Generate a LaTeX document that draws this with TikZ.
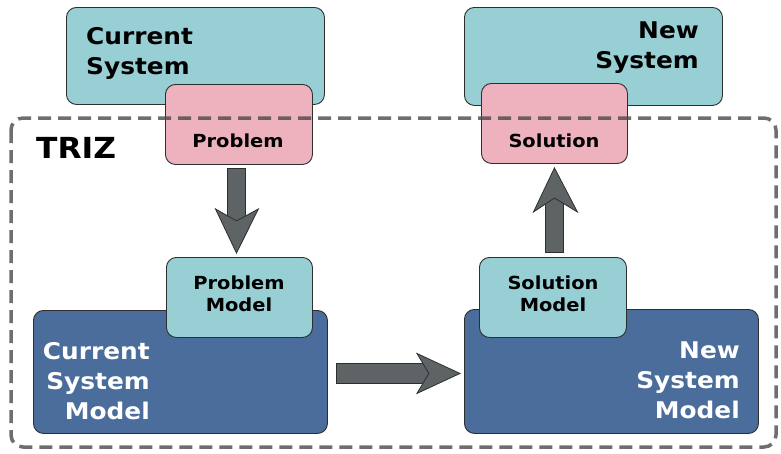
\documentclass[tikz,border=0pt]{standalone}
\usepackage{fontspec}
\setmainfont{DejaVu Sans}[FakeStretch=1.08]
\usetikzlibrary{calc}
\definecolor{tealbox}{HTML}{98CFD4}
\definecolor{pinkbox}{HTML}{EDB2BD}
\definecolor{bluebox}{HTML}{4A6D9B}
\definecolor{arrowg}{HTML}{5E6466}
\definecolor{edgec}{HTML}{2E2E2E}
\definecolor{dashc}{HTML}{4A4A4A}
\begin{document}
\begin{tikzpicture}[x=1pt,y=-1pt,
  box/.style={draw=edgec, line width=0.9pt, rounded corners=10pt, inner sep=0pt, anchor=north west},
  bigtxt/.style={inner sep=0pt, font=\bfseries\fontsize{23}{30}\selectfont},
  smalltxt/.style={inner sep=0pt, align=center, font=\bfseries\fontsize{18}{22}\selectfont},
  fatarrow/.style={fill=arrowg, draw=edgec, line width=0.8pt, line join=miter},
  frame/.style={draw=dashc, line width=3.5pt, dash pattern=on 13pt off 7pt, rounded corners=12pt, opacity=0.8}]
\useasboundingbox (0,0) rectangle (781,453);
% top boxes
\node[box, fill=tealbox, minimum width=258pt, minimum height=97pt] (cs) at (66,7) {};
\node[box, fill=tealbox, minimum width=258pt, minimum height=98pt] (ns) at (464,7) {};
\node[box, fill=pinkbox, minimum width=147pt, minimum height=80pt] (prob) at (165,84) {};
\node[box, fill=pinkbox, minimum width=146pt, minimum height=80pt] (sol) at (481,83) {};
% bottom boxes
\node[box, fill=bluebox, minimum width=294pt, minimum height=123pt] (csm) at (33,310) {};
\node[box, fill=bluebox, minimum width=294pt, minimum height=124pt] (nsm) at (464,309) {};
\node[box, fill=tealbox, minimum width=146pt, minimum height=80pt] (pm) at (166,257) {};
\node[box, fill=tealbox, minimum width=147pt, minimum height=80pt] (sm) at (479,257) {};
% texts
\node[bigtxt, align=left, anchor=north west] (cst) at (86,27) {Current\\System};
\node[bigtxt, align=right, anchor=north east] (nst) at (699,22) {New\\System};
\node[smalltxt, anchor=north] (probt) at (238,134) {Problem};
\node[smalltxt, anchor=north] (solt) at (554,134) {Solution};
\node[smalltxt, anchor=north] (pmt) at (239,276) {Problem\\Model};
\node[smalltxt, anchor=north] (smt) at (553,276) {Solution\\Model};
\node[bigtxt, align=right, anchor=north east, text=white] (csmt) at (150,342) {Current\\System\\Model};
\node[bigtxt, align=right, anchor=north east, text=white] (nsmt) at (740,342) {New\\System\\Model};
\node[inner sep=0pt, anchor=north west, font=\bfseries\fontsize{29}{34}\selectfont] (triz) at (36,137) {TRIZ};
% arrow: Problem -> Problem Model
\draw[fatarrow] ($(prob.south)+(-11.5,3)$) rectangle ($(prob.south)+(6.5,60)$);
\draw[fatarrow] ($(pm.north)+(-3,-4)$) -- ($(prob.south)+(19.5,44)$) -- ($(prob.south)+(-2.5,56)$)
  -- ($(prob.south)+(-23.5,44)$) -- cycle;
% arrow: Solution Model -> Solution
\draw[fatarrow] ($(sm.north)+(-7.5,-5)$) rectangle ($(sm.north)+(10.5,-63)$);
\draw[fatarrow] ($(sol.south)+(0,4)$) -- ($(sm.north)+(24.5,-45)$) -- ($(sm.north)+(1.5,-59)$)
  -- ($(sm.north)+(-19.5,-45)$) -- cycle;
% arrow: Current System Model -> New System Model
\draw[fatarrow] ($(csm.east)+(8,-8.5)$) rectangle ($(csm.east)+(105,11.5)$);
\draw[fatarrow] ($(nsm.west)+(-4,2)$) -- ($(csm.east)+(89,21.5)$) -- ($(csm.east)+(101,1.5)$)
  -- ($(csm.east)+(89,-18.5)$) -- cycle;
% TRIZ frame
\coordinate (fnw) at (11,118);
\coordinate (fse) at (776,447);
\draw[frame] (fnw) rectangle (fse);
\end{tikzpicture}
\end{document}
